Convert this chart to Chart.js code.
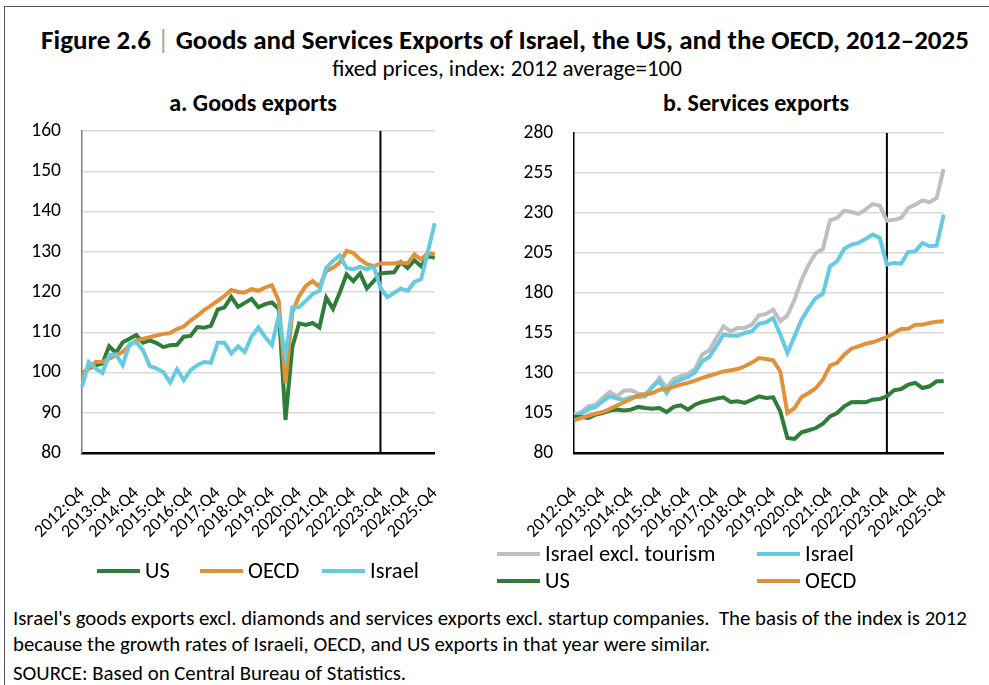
<!DOCTYPE html>
<html>
<head>
<meta charset="utf-8">
<script src="https://cdn.jsdelivr.net/npm/chart.js@4.4.0/dist/chart.umd.min.js"></script>
<style>
    body { margin: 0; background: #fff; font-family: Carlito, Calibri, Lato, sans-serif; color: #000; }
    #frame { position: absolute; left: 4px; top: 6px; width: 1000px; height: 700px; border-top: 1px solid #555; border-left: 1px solid #555; }
    .txt { position: absolute; white-space: pre; }
    .center { text-align: center; }
    .swatch { position: absolute; height: 4px; width: 43px; }
    canvas { position: absolute; }
</style>
</head>
<body>
<div id="frame"></div>

<div class="txt center" style="left:0;width:1010px;top:24px;font-size:27px;font-weight:bold;line-height:32px;">Figure 2.6 <span style="color:#a6a6a6;font-weight:normal;">|</span> Goods and Services Exports of Israel, the US, and the OECD, 2012–2025</div>
<div class="txt center" style="left:0;width:1014px;top:54px;font-size:23px;line-height:28px;">fixed prices, index: 2012 average=100</div>
<div class="txt center" style="left:103px;width:300px;top:88px;font-size:24px;font-weight:bold;line-height:30px;">a. Goods exports</div>
<div class="txt center" style="left:606px;width:300px;top:88px;font-size:24px;font-weight:bold;line-height:30px;">b. Services exports</div>

<canvas id="goods-chart" width="480" height="440" style="left:0;top:110px;"></canvas>
<canvas id="services-chart" width="489" height="440" style="left:500px;top:110px;"></canvas>

<div id="legends"></div>

<div class="txt" style="left:13px;top:606px;font-size:20.8px;line-height:24px;">Israel's goods exports excl. diamonds and services exports excl. startup companies.  The basis of the index is 2012</div>
<div class="txt" style="left:13px;top:632px;font-size:20.8px;line-height:24px;">because the growth rates of Israeli, OECD, and US exports in that year were similar.</div>
<div class="txt" style="left:13px;top:661px;font-size:20.8px;line-height:24px;">SOURCE: Based on Central Bureau of Statistics.</div>

<script>
// Quarter categories, 2012:Q4 to 2025:Q4
const firstYear = 2012;
const lastYear = 2025;
const quarters = [];
for (let y = firstYear; y <= lastYear; y++) {
    for (let q = 1; q <= 4; q++) {
        if (y === firstYear && q < 4) continue;
        quarters.push(y + ':Q' + q);
    }
}
const forecastStart = '2023:Q4';

// a. Goods exports
const goodsUS = [99.7, 101, 101.8, 102.2, 106.5, 104.9, 107.5, 108.4, 109.3, 107.4, 108, 107.3, 106.3, 106.8, 106.9, 108.9, 109.1, 111.3, 111.1, 111.6, 115.6, 116.2, 118.8, 116.3, 117.3, 118.3, 116.2, 117, 117.4, 115.8, 88.2, 106.3, 112.2, 111.8, 112.3, 111.2, 118.6, 115.8, 119.9, 124.4, 122.7, 124.6, 120.9, 122.7, 124.6, 124.8, 124.9, 127.4, 126, 127.9, 126.4, 128.9, 128.5];
const goodsOECD = [99.5, 101, 102.6, 102.6, 103.4, 104.3, 105.1, 106.7, 108, 108.4, 108.8, 109.2, 109.6, 109.8, 110.8, 111.4, 112.9, 114.1, 115.5, 116.6, 117.8, 119, 120.5, 120, 119.9, 120.7, 120.3, 121.1, 121.7, 117.8, 97.3, 114.9, 119, 121.5, 122.7, 121.3, 125.2, 126, 127.3, 130.2, 129.7, 128.1, 126.9, 126.4, 127.1, 127.1, 127.1, 127.3, 127.1, 129.3, 128.1, 129.7, 129.3];
const goodsIsrael = [96.4, 102.6, 101, 99.9, 104.3, 104.5, 101.8, 107.1, 107.5, 105.5, 101.6, 101, 100.1, 97.5, 100.8, 98.1, 100.6, 101.8, 102.6, 102.4, 107.4, 107.4, 104.7, 106.5, 105.1, 109, 111.2, 108.8, 106.8, 114, 104, 116.2, 116.2, 117.8, 119.5, 120.3, 126, 127.7, 129.1, 126, 125.6, 126.3, 125.6, 126.4, 121.1, 118.7, 119.8, 120.9, 120.3, 122.5, 123.2, 130.1, 137.1];
const goodsTicks = { min: 80, max: 160, step: 10 };

// b. Services exports
const servIsraelExTourism = [104, 105.6, 109.2, 110.2, 114.4, 118.1, 115.4, 119, 119.2, 117.1, 116.9, 121.3, 126.9, 120.6, 126.3, 128, 129.6, 132.5, 141.5, 144.2, 151.9, 159.2, 156, 158.1, 158.1, 160.2, 166, 166.9, 169.6, 162.3, 166, 175.8, 188.3, 197.7, 205, 207.5, 225.4, 226.9, 231.5, 230.6, 229.4, 232.1, 235.6, 234.6, 225.2, 225.8, 226.9, 233.1, 235.2, 237.9, 236.7, 239.4, 257.5];
const servIsrael = [103.3, 104.6, 107.5, 108.8, 112.3, 115.4, 114, 113.3, 114.8, 115, 115.4, 121.7, 124.8, 117.5, 123.8, 125.8, 127.5, 130.4, 137.3, 140, 146.7, 154, 153.3, 153.3, 155, 156, 160.8, 161.7, 164.4, 154, 142.5, 152.9, 163.3, 170.6, 176.9, 179.6, 196.7, 199.8, 207.7, 210.2, 211.3, 213.8, 216.5, 214.4, 197.7, 198.8, 198.3, 205.6, 206, 211.3, 209.2, 209.6, 229];
const servUS = [102.5, 102.5, 101.9, 104, 105, 106.5, 107.1, 106.5, 107.1, 108.8, 108.1, 107.7, 108.1, 105.6, 108.8, 109.8, 107.1, 110.2, 111.9, 112.9, 114, 114.8, 111.9, 112.3, 111.3, 113.3, 115.4, 114.4, 114.8, 106, 89.4, 88.8, 92.9, 94.2, 95.6, 98.3, 102.9, 105, 109.2, 111.7, 111.9, 111.7, 113.3, 113.8, 115.4, 119.2, 120, 122.7, 123.8, 120.6, 121.7, 124.8, 124.8];
const servOECD = [100.4, 101.9, 103.3, 104.6, 105.6, 107.5, 109.6, 111.7, 113.8, 116, 116.5, 117.5, 119.6, 120, 121.3, 122.7, 123.8, 125.2, 126.9, 128.3, 129.6, 131, 131.7, 132.5, 134.2, 136.5, 139.4, 138.8, 137.9, 131, 105, 108.1, 115, 117.5, 120.6, 125.8, 134.6, 136.3, 141.5, 145.2, 146.7, 148.3, 149.2, 150.8, 152.5, 155, 157.5, 157.7, 160.2, 160.2, 161.3, 162.1, 162.3];
const servTicks = { min: 80, max: 280, step: 25 };

const GREEN = '#2e7d38';
const ORANGE = '#e0913a';
const CYAN = '#66cbe0';
const GREY = '#bfbfbf';

Chart.defaults.font.family = 'Carlito, Calibri, Lato, sans-serif';
Chart.defaults.color = '#000';

// Black vertical line marking 2023:Q4
const forecastLine = {
    id: 'forecastLine',
    beforeDatasetsDraw(chart) {
        const { ctx, chartArea, scales } = chart;
        const x = scales.x.getPixelForValue(quarters.indexOf(forecastStart));
        ctx.save();
        ctx.strokeStyle = '#000';
        ctx.lineWidth = 2;
        ctx.beginPath();
        ctx.moveTo(x, chartArea.top);
        ctx.lineTo(x, chartArea.bottom);
        ctx.stroke();
        ctx.restore();
    }
};

function lineSet(label, data, color, order) {
    return {
        label: label,
        data: data,
        borderColor: color,
        backgroundColor: color,
        borderWidth: 4,
        pointRadius: 0,
        tension: 0,
        order: order
    };
}

function makeOptions(t, yWidth, pad, yBorderColor) {
    return {
        responsive: false,
        animation: false,
        devicePixelRatio: 1,
        layout: { padding: pad },
        plugins: { legend: { display: false }, tooltip: { enabled: false } },
        scales: {
            x: {
                offset: false,
                grid: { display: false, drawTicks: false },
                border: { color: '#000', width: 2.5 },
                ticks: {
                    autoSkip: false,
                    maxRotation: 45,
                    minRotation: 45,
                    padding: 30,
                    font: { size: 18 },
                    callback: function (val, idx) {
                        return idx % 4 === 0 ? this.getLabelForValue(val) : '';
                    }
                },
                afterFit(scale) { scale.height = 97; }
            },
            y: {
                min: t.min,
                max: t.max,
                // invisible tick marks keep the labels clear of the axis
                grid: { color: '#d9d9d9', lineWidth: 1.5, drawTicks: true, tickLength: 15, tickColor: 'rgba(0,0,0,0)' },
                border: { color: yBorderColor, width: 1.5 },
                ticks: { stepSize: t.step, padding: 6, font: { size: 19.5 } },
                afterFit(scale) { scale.width = yWidth; }
            }
        }
    };
}

new Chart(document.getElementById('goods-chart'), {
    type: 'line',
    data: {
        labels: quarters,
        datasets: [
            lineSet('US', goodsUS, GREEN, 3),
            lineSet('OECD', goodsOECD, ORANGE, 2),
            lineSet('Israel', goodsIsrael, CYAN, 1)
        ]
    },
    options: makeOptions(goodsTicks, 82, { left: 0, top: 21, right: 13, bottom: 0 }, '#808080'),
    plugins: [forecastLine]
});

new Chart(document.getElementById('services-chart'), {
    type: 'line',
    data: {
        labels: quarters,
        datasets: [
            lineSet('Israel excl. tourism', servIsraelExTourism, GREY, 4),
            lineSet('Israel', servIsrael, CYAN, 3),
            lineSet('US', servUS, GREEN, 2),
            lineSet('OECD', servOECD, ORANGE, 1)
        ]
    },
    options: makeOptions(servTicks, 65, { left: 0, top: 23, right: 32, bottom: 0 }, '#000'),
    plugins: [forecastLine]
});

// HTML legends
const legendItems = [
    { text: 'US', color: GREEN, x: 97, y: 571 },
    { text: 'OECD', color: ORANGE, x: 200, y: 571 },
    { text: 'Israel', color: CYAN, x: 322, y: 571 },
    { text: 'Israel excl. tourism', color: GREY, x: 497, y: 554 },
    { text: 'Israel', color: CYAN, x: 757, y: 554 },
    { text: 'US', color: GREEN, x: 497, y: 581 },
    { text: 'OECD', color: ORANGE, x: 757, y: 581 }
];
const legendBox = document.getElementById('legends');
legendItems.forEach(item => {
    const sw = document.createElement('div');
    sw.className = 'swatch';
    sw.style.left = item.x + 'px';
    sw.style.top = (item.y - 2) + 'px';
    sw.style.background = item.color;
    legendBox.appendChild(sw);
    const label = document.createElement('div');
    label.className = 'txt';
    label.style.left = (item.x + 48) + 'px';
    label.style.top = (item.y - 14) + 'px';
    label.style.fontSize = '22.5px';
    label.style.lineHeight = '28px';
    label.textContent = item.text;
    legendBox.appendChild(label);
});
</script>
</body>
</html>
